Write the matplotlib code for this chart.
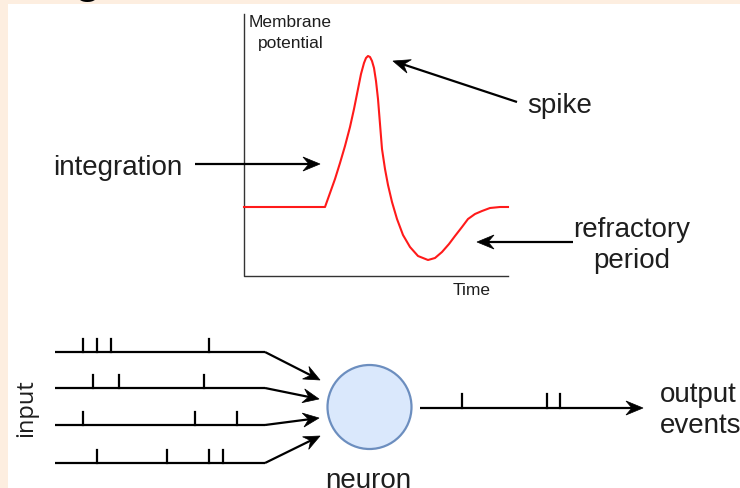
import matplotlib
matplotlib.use("Agg")
import matplotlib.pyplot as plt
from matplotlib.patches import Rectangle, Circle, Polygon
import numpy as np

plt.rcParams['font.family'] = ['Liberation Sans', 'DejaVu Sans']

# membrane potential trace (pixel coords, y down)
trace_x = [244, 325, 330, 335, 340, 345, 350, 354, 358, 361, 364, 366, 368,
           370, 372, 374, 376, 378, 380, 382, 385, 388, 392, 397, 403, 410,
           418, 428, 435, 442, 449, 455, 462, 468, 475, 482, 490, 500, 508]
trace_y = [208, 208, 194, 180, 164, 147, 128, 110, 90, 75, 64, 59, 57,
           58, 62, 69, 82, 100, 125, 150, 170, 186, 203, 220, 236, 248,
           257, 261, 259, 253, 245, 237, 228, 220, 215, 212, 209, 208, 208]

# spike trains: baseline y of each input line and spike x positions
input_rows = [353, 389, 426, 464]
input_spikes = [
    [83, 97, 111, 209],
    [93, 119, 204],
    [83, 195, 237],
    [97, 167, 209, 223],
]
input_tips = [(320, 381), (319, 400), (319, 419), (320, 437)]
output_row = 409
output_spikes = [462, 547, 560]

ink = '#1e1e1e'

fig = plt.figure(figsize=(7.4, 4.89), dpi=100, facecolor='#fdeee0')
ax = fig.add_axes([0, 0, 1, 1])
ax.set_xlim(0, 740)
ax.set_ylim(489, 0)
ax.axis('off')

ax.add_patch(Rectangle((8, 5), 740, 489, facecolor='white', edgecolor='none', zorder=0))
ax.text(88, -8.5, 'g', fontsize=36, ha='center', va='baseline', color='black', zorder=5)


def arrow(x0, y0, x1, y1, L=17, W=7, lw=1.6):
    d = np.array([x1 - x0, y1 - y0], float)
    d /= np.hypot(*d)
    n = np.array([-d[1], d[0]])
    tip = np.array([x1, y1], float)
    ax.plot([x0, tip[0] - 0.6 * L * d[0]], [y0, tip[1] - 0.6 * L * d[1]],
            color='black', lw=lw, solid_capstyle='butt')
    pts = [tip, tip - L * d + W * n, tip - 0.65 * L * d, tip - L * d - W * n]
    ax.add_patch(Polygon(pts, closed=True, facecolor='black', edgecolor='black', lw=0.5))


# axes of the small plot
ax.plot([244, 244, 508], [15, 277, 277], color='#333333', lw=1.0)
ax.text(290, 27, 'Membrane', fontsize=12.5, ha='center', va='baseline', color=ink)
ax.text(291, 48, 'potential', fontsize=12.5, ha='center', va='baseline', color=ink)
ax.text(453, 295, 'Time', fontsize=12.5, ha='left', va='baseline', color=ink)

ax.plot(trace_x, trace_y, color='#ff1a1a', lw=1.5)

# annotations
ax.text(53, 175, 'integration', fontsize=20, ha='left', va='baseline', color=ink)
arrow(195, 165, 320, 165)
ax.text(527, 113, 'spike', fontsize=20, ha='left', va='baseline', color=ink)
arrow(517, 103, 393, 62)
ax.text(632, 237, 'refractory', fontsize=20, ha='center', va='baseline', color=ink)
ax.text(632, 268, 'period', fontsize=20, ha='center', va='baseline', color=ink)
arrow(573, 243, 477, 243)

# input spike trains
for y, spikes, (tx, ty) in zip(input_rows, input_spikes, input_tips):
    ax.plot([55, 265], [y, y], color='black', lw=1.6, solid_capstyle='butt')
    for sx in spikes:
        ax.plot([sx, sx], [y, y - 13], color='black', lw=1.6)
    arrow(265, y, tx, ty, L=16, W=7)

ax.text(26, 408, 'input', fontsize=17, rotation=90, ha='center', va='center',
        color=ink, family=['Open Sans', 'DejaVu Sans'])

# neuron
ax.add_patch(Circle((369.5, 408), 42, facecolor='#dae8fc', edgecolor='#6c8ebf', lw=1.6))
ax.text(368, 488, 'neuron', fontsize=20, ha='center', va='baseline', color=ink)

# output train
arrow(420, output_row, 643, output_row)
for sx in output_spikes:
    ax.plot([sx, sx], [output_row, output_row - 14], color='black', lw=1.6)
ax.text(660, 402, 'output', fontsize=20, ha='left', va='baseline', color=ink)
ax.text(660, 433, 'events', fontsize=20, ha='left', va='baseline', color=ink)

fig.savefig('out.png', dpi=100, facecolor=fig.get_facecolor())
